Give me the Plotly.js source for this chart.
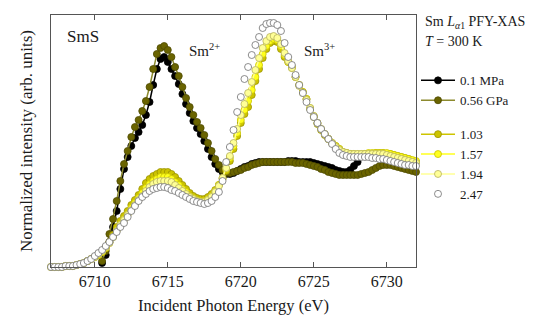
<!DOCTYPE html>
<html>
<head>
<meta charset="utf-8">
<script src="https://cdn.plot.ly/plotly-3.0.1.min.js"></script>
<style>html,body{margin:0;padding:0;background:#fff;}#chart{width:543px;height:320px;}</style>
</head>
<body>
<div id="chart"></div>
<script>
// Incident photon energy grid (eV)
const energy = [
6707,6707.25,6707.5,6707.75,6708,6708.25,6708.5,6708.75,6709,6709.25,6709.5,6709.75,
6710,6710.25,6710.5,6710.75,6711,6711.25,6711.5,6711.75,6712,6712.25,6712.5,6712.75,
6713,6713.25,6713.5,6713.75,6714,6714.25,6714.5,6714.75,6715,6715.25,6715.5,6715.75,
6716,6716.25,6716.5,6716.75,6717,6717.25,6717.5,6717.75,6718,6718.25,6718.5,6718.75,
6719,6719.25,6719.5,6719.75,6720,6720.25,6720.5,6720.75,6721,6721.25,6721.5,6721.75,
6722,6722.25,6722.5,6722.75,6723,6723.25,6723.5,6723.75,6724,6724.25,6724.5,6724.75,
6725,6725.25,6725.5,6725.75,6726,6726.25,6726.5,6726.75,6727,6727.25,6727.5,6727.75,
6728,6728.25,6728.5,6728.75,6729,6729.25,6729.5,6729.75,6730,6730.25,6730.5,6730.75,
6731,6731.25,6731.5,6731.75,6732];

// 0.1 MPa : 6710.5 .. 6728
const p01MPa = [0.04,0.12,
0.25,0.40,0.56,0.78, 0.98,1.10,1.21,1.29, 1.35,1.42,1.52,1.65, 1.82,1.98,2.08,2.10,
2.05,1.98,1.91,1.83, 1.73,1.63,1.54,1.46, 1.39,1.33,1.26,1.18, 1.10,1.03,0.98,0.95,
0.93,0.93,0.94,0.96, 0.98,1.00,1.01,1.03, 1.04,1.05,1.05,1.05, 1.05,1.05,1.05,1.05,
1.05,1.06,1.06,1.06, 1.05,1.05,1.05,1.05, 1.04,1.03,1.02,1.01, 1.00,0.99,0.97,0.96,
0.95,0.95,0.97,1.01, 1.05];

// 0.56 GPa : 6710.5 .. 6732
const p056 = [0.06,0.16,
0.33,0.48,0.66,0.86, 1.03,1.16,1.30,1.40, 1.47,1.56,1.66,1.80, 1.98,2.13,2.19,2.21,
2.17,2.10,2.00,1.91, 1.80,1.69,1.60,1.52, 1.45,1.39,1.32,1.24, 1.16,1.08,1.02,0.97,
0.94,0.94,0.95,0.96, 0.97,0.99,1.00,1.02, 1.03,1.04,1.05,1.05, 1.05,1.05,1.05,1.05,
1.05,1.05,1.05,1.04, 1.04,1.04,1.03,1.02, 1.01,1.00,0.98,0.97, 0.95,0.94,0.93,0.92,
0.92,0.92,0.92,0.92, 0.92,0.93,0.94,0.95, 0.97,0.99,1.01,1.02, 1.02,1.02,1.01,1.00,
0.99,0.98,0.97,0.96, 0.95];

// 1.03 GPa : 6707 .. 6732
const p103 = [0.00,0.00,0.00,0.00, 0.01,0.01,0.01,0.02, 0.03,0.04,0.06,0.08,
0.10,0.12,0.15,0.19, 0.25,0.32,0.40,0.46, 0.51,0.56,0.62,0.67, 0.72,0.78,0.84,0.88,
0.91,0.93,0.95,0.95, 0.95,0.93,0.90,0.86, 0.82,0.78,0.74,0.71, 0.69,0.68,0.68,0.70,
0.73,0.77,0.82,0.88, 0.96,1.06,1.18,1.31, 1.44,1.53,1.60,1.72, 1.86,1.98,2.09,2.18,
2.24,2.26,2.25,2.18, 2.10,2.05,2.00,1.90, 1.82,1.75,1.68,1.58, 1.50,1.43,1.37,1.32,
1.28,1.24,1.21,1.18, 1.15,1.14,1.13,1.12, 1.12,1.12,1.13,1.13, 1.13,1.14,1.14,1.14,
1.13,1.13,1.12,1.11, 1.10,1.09,1.08,1.06, 1.05];

// 1.57 GPa
const p157 = [0.00,0.00,0.00,0.00, 0.01,0.01,0.01,0.02, 0.03,0.04,0.06,0.08,
0.10,0.12,0.15,0.19, 0.24,0.30,0.37,0.43, 0.48,0.53,0.59,0.64, 0.69,0.74,0.79,0.83,
0.86,0.88,0.90,0.90, 0.90,0.88,0.85,0.82, 0.78,0.75,0.71,0.69, 0.67,0.66,0.66,0.68,
0.71,0.76,0.82,0.89, 0.98,1.09,1.21,1.34, 1.47,1.57,1.66,1.77, 1.90,2.02,2.13,2.21,
2.26,2.28,2.27,2.21, 2.12,2.05,1.99,1.90, 1.82,1.75,1.68,1.59, 1.51,1.44,1.38,1.33,
1.28,1.24,1.21,1.18, 1.15,1.14,1.13,1.13, 1.13,1.13,1.13,1.14, 1.14,1.14,1.14,1.14,
1.14,1.13,1.12,1.11, 1.10,1.09,1.08,1.07, 1.06];

// 1.94 GPa
const p194 = [0.00,0.00,0.00,0.00, 0.01,0.01,0.01,0.02, 0.03,0.04,0.06,0.08,
0.10,0.13,0.16,0.20, 0.24,0.30,0.36,0.42, 0.47,0.52,0.57,0.62, 0.67,0.71,0.76,0.80,
0.83,0.85,0.86,0.86, 0.86,0.85,0.82,0.79, 0.76,0.73,0.70,0.68, 0.66,0.65,0.65,0.67,
0.70,0.75,0.81,0.89, 0.99,1.11,1.24,1.38, 1.52,1.63,1.74,1.85, 1.97,2.09,2.19,2.26,
2.30,2.31,2.29,2.23, 2.14,2.06,1.99,1.90, 1.81,1.74,1.67,1.59, 1.51,1.44,1.38,1.33,
1.28,1.24,1.20,1.17, 1.15,1.14,1.13,1.13, 1.13,1.13,1.13,1.13, 1.13,1.13,1.13,1.13,
1.12,1.11,1.10,1.09, 1.08,1.07,1.06,1.05, 1.04];

// 2.47 GPa
const p247 = [0.00,0.00,0.00,0.00, 0.01,0.01,0.01,0.02, 0.03,0.04,0.06,0.08,
0.11,0.14,0.17,0.21, 0.25,0.30,0.35,0.40, 0.44,0.50,0.56,0.61, 0.66,0.70,0.73,0.76,
0.78,0.79,0.80,0.80, 0.79,0.77,0.76,0.74, 0.72,0.70,0.68,0.66, 0.65,0.64,0.63,0.64,
0.66,0.70,0.75,0.86, 1.05,1.20,1.37,1.55, 1.70,1.88,2.00,2.12, 2.22,2.30,2.39,2.43,
2.44,2.44,2.42,2.36, 2.24,2.10,2.02,1.92, 1.82,1.74,1.65,1.57, 1.50,1.44,1.38,1.33,
1.28,1.23,1.18,1.14, 1.12,1.11,1.10,1.10, 1.10,1.10,1.10,1.10, 1.09,1.09,1.08,1.08,
1.07,1.06,1.05,1.04, 1.03,1.02,1.02,1.01, 1.01];

const seriesNames = ['0.1 MPa','0.56 GPa','1.03','1.57','1.94','2.47'];
const xTicks = [6710,6715,6720,6725,6730];

const FONT = 'Liberation Serif';
const TXT = '#1a1a1a';
const ms = 7;
function tr(name, x, y, fill, edge, line, group, mode){
  return {
    type:'scatter', mode: mode, name: name, x: x, y: y,
    legendgroup: group, cliponaxis: false,
    line: {color: line, width: 1.5},
    marker: {size: ms, color: fill, line: {color: edge, width: 0.8}}
  };
}
const traces = [
  tr(seriesNames[0], energy.slice(14,85), p01MPa, '#000000', '#000000', '#000000', 'a', 'lines+markers'),
  tr(seriesNames[1], energy.slice(14), p056, '#6a6400', '#4e4a00', '#8c8a2e', 'a', 'lines+markers'),
  tr(seriesNames[2], energy, p103, '#cdc400', '#9a9300', '#cdc400', 'b', 'lines+markers'),
  tr(seriesNames[3], energy, p157, '#ffff1e', '#c9c300', '#ffff1e', 'b', 'lines+markers'),
  tr(seriesNames[4], energy, p194, '#ffff96', '#b5b060', '#ffff96', 'b', 'lines+markers'),
  tr(seriesNames[5], energy, p247, '#ffffff', '#707070', '#ffffff', 'b', 'markers')
];

const layout = {
  width: 543, height: 320,
  margin: {l: 51, r: 127, t: 15, b: 53},
  paper_bgcolor: '#fff', plot_bgcolor: '#fff',
  font: {family: FONT, size: 14, color: TXT},
  showlegend: true,
  legend: {x: 1.0, xanchor: 'left', y: 0.80, yanchor: 'top',
           traceorder: 'grouped', tracegroupgap: 14, itemwidth: 34,
           font: {family: FONT, size: 13, color: TXT},
           bgcolor: 'rgba(0,0,0,0)'},
  xaxis: {
    range: [6707, 6732], tickvals: xTicks, ticktext: xTicks.map(String),
    ticks: 'inside', ticklen: 5, tickcolor: '#555',
    showline: true, linecolor: '#555', linewidth: 1, mirror: 'ticks',
    showgrid: false, zeroline: false,
    tickfont: {family: FONT, size: 16, color: TXT},
    title: {text: 'Incident Photon Energy (eV)', font: {family: FONT, size: 16.5, color: TXT}, standoff: 10}
  },
  yaxis: {
    range: [0, 2.52], showticklabels: false, ticks: '',
    showline: true, linecolor: '#555', linewidth: 1, mirror: true,
    showgrid: false, zeroline: false,
    title: {text: 'Normalized intensity (arb. units)', font: {family: FONT, size: 17, color: TXT}, standoff: 13}
  },
  annotations: [
    {text: 'SmS', x: 6707.95, y: 2.31, xref: 'x', yref: 'y', xanchor: 'left', yanchor: 'middle', showarrow: false, font: {family: FONT, size: 17, color: TXT}},
    {text: 'Sm<sup>2+</sup>', x: 6716.3, y: 2.17, xref: 'x', yref: 'y', xanchor: 'left', yanchor: 'middle', showarrow: false, font: {family: FONT, size: 15, color: TXT}},
    {text: 'Sm<sup>3+</sup>', x: 6724.2, y: 2.17, xref: 'x', yref: 'y', xanchor: 'left', yanchor: 'middle', showarrow: false, font: {family: FONT, size: 15, color: TXT}},
    {text: 'Sm <i>L</i><sub><i>α</i>1</sub> PFY-XAS', x: 1.018, y: 0.972, xref: 'paper', yref: 'paper', xanchor: 'left', yanchor: 'middle', showarrow: false, font: {family: FONT, size: 14, color: TXT}},
    {text: '<i>T</i> = 300 K', x: 1.018, y: 0.893, xref: 'paper', yref: 'paper', xanchor: 'left', yanchor: 'middle', showarrow: false, font: {family: FONT, size: 14, color: TXT}}
  ]
};

Plotly.newPlot('chart', traces, layout, {displayModeBar: false, staticPlot: true});
</script>
</body>
</html>
